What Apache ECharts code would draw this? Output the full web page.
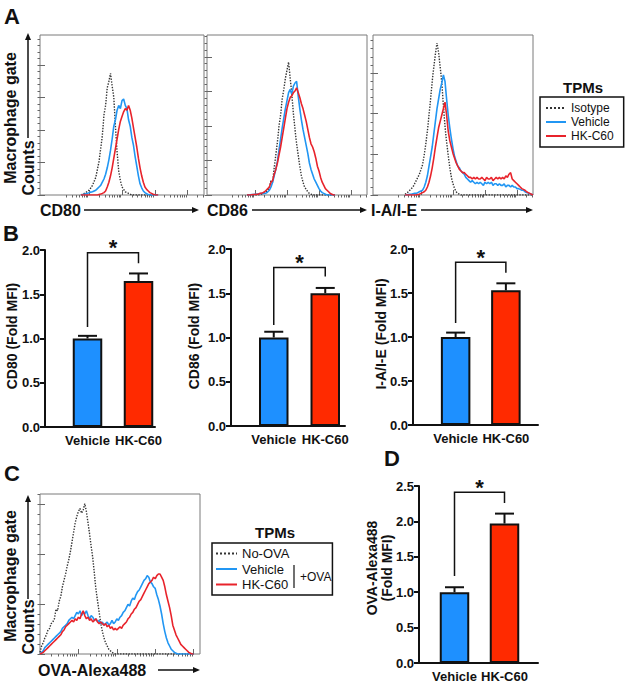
<!DOCTYPE html>
<html><head><meta charset="utf-8">
<script src="https://cdn.jsdelivr.net/npm/echarts@6/dist/echarts.min.js"></script>
<style>html,body{margin:0;padding:0;background:#fff}#c{width:630px;height:689px}</style>
</head><body><div id="c"></div><script>
// ---------------- DATA ----------------
// Panel A histograms (channel position vs. normalised counts)
const a1Channels = [250,260,270,280,290,300,310,320,330,340,350,360,370,380,390,400,410,420,430,440,450,460,470,480,490,500,510,520,530,540,550,560,570,580,590,600,610,620,630,640,650,660,670,680,690,700,710,720];
const a1Isotype = [0,0.5,1,1.5,2.5,3,4.5,6,8.5,11,16,21,29,37,50,56,67,71,76,68,61,43,27,15,9,5,3.5,2,1.5,1,0.5,0,0,0,0,0,0,0,0,0,0,0,0,0,0,0,0,0];
const a1Vehicle = [0,0.3,0.5,0.8,1,1.5,1.8,2,2.5,3,4,5,6,8,10,13,17,22,28,35,43,47,53,56,54,59,60,56,54,47,43,36,31,24,18,12,7,4.5,2.5,1.5,0.8,0.3,0,0,0,0,0,0];
const a1HKC60 = [0,0,0,0,0,0,0,0,0,0,0,0.3,0.6,1,1.5,2.5,5,8,12,17,23,29,35,41,46,49,52,54,53,56,53,48,42,36,30,23,17,12,8,5,3.5,2.5,1.5,1,0.5,0.2,0,0];

const a2Channels = [250,260,270,280,290,300,310,320,330,340,350,360,370,380,390,400,410,420,430,440,450,460,470,480,490,500,510,520,530,540,550,560,570,580,590,600,610,620,630,640,650,660,670,680,690,700,710,720,730,740,750,760,770,780,790,800];
const a2Isotype = [0,0,0,0,0,0,0,0,0.3,0.5,1,1.5,2,3,5,9,8,17,25,33,43,50,60,66,73,78,83,73,63,51,41,32,25,18,12,8,5,3.5,2,1,0.5,0,0,0,0,0,0,0,0,0,0,0,0,0,0,0];
const a2Vehicle = [0,0,0.2,0.3,0.3,0.5,0.5,0.7,0.8,1,1,1,1.2,2,3,5,8,12,16,21,28,35,42,48,54,59,64,66,63,68,70,71,62,54,47,41,36,31,26,20,16,13,10,8,6,4,2.5,1.5,1,0.5,0,0,0,0,0,0];
const a2HKC60 = [0,0,0,0.2,0.3,0.3,0.5,0.5,1,1,1.5,2,3,4,5,8,9,13,16,20,25,30,36,42,48,54,58,61,62,64,65,67,64,61,57,54,50,46,41,36,32,30,27,23,18,15,11,8,6,4,3,2,1,0.5,0,0];

const a3Channels = [200,210,220,230,240,250,260,270,280,290,300,310,320,330,340,350,360,370,380,390,400,410,420,430,440,450,460,470,480,490,500,510,520,530,540,550,560,570,580,590,600,610,620,630,640,650,660,670,680,690,700,710,720,730,740,750,760,770,780,790,800,810,820,830,840,850,860,870,880,890,900,910,920,930,940,950,960,970,980,990,1000];
const a3Isotype = [0.5,1,2,3,4,5,7,9,11,13,16,19,25,32,40,50,60,71,80,88,95,89,80,70,56,43,33,25,17,11,7,4,2,1,0.5,0,0,0,0,0,0,0,0,0,0,0,0,0,0,0,0,0,0,0,0,0,0,0,0,0,0,0,0,0,0,0,0,0,0,0,0,0,0,0,0,0,0,0,0,0,0];
const a3Vehicle = [0,0,0.3,0.5,0.5,0.8,1,1,1.5,2,2.5,3,5,8,12,18,24,30,38,46,54,60,66,70,75,71,60,50,42,35,29,24,21,18,17,15,14,13,11,10,9,8,9,8,7,8,7,8,7,6,8,7,8,7,8,6,7,7,6,7,6,6,7,5,6,6,5,6,5,5,4,4,3.5,3,3,2,1.5,1.2,0.8,0.5,0];
const a3HKC60 = [0,0,0,0,0,0,0,0,0.3,0.5,1,1.5,2,3,5,8,12,17,23,30,36,42,46,50,54,58,50,40,34,30,26,23,20,18,16,15,14,14,13,12,11,11,10,11,10,11,10,10,11,10,9,11,10,10,11,9,10,11,10,11,10,11,10,12,11,13,14,10,9,8,7,6,5,4,3.5,3,2,1.5,1,0.5,0];

// Panel C histogram
const cChannels = [0,10,20,30,40,50,60,70,80,90,100,110,120,130,140,150,160,170,180,190,200,210,220,230,240,250,260,270,280,290,300,310,320,330,340,350,360,370,380,390,400,410,420,430,440,450,460,470,480,490,500,510,520,530,540,550,560,570,580,590,600,610,620,630,640,650,660,670,680,690,700,710,720,730,740,750,760,770,780,790,800,810,820,830,840,850,860,870,880,890,900,910,920,930,940,950,960];
const cNoOVA = [1,5,7,10,12,15,16,19,20,22,28,27,33,36,42,46,50,55,59,64,70,76,82,86,89,91,88,90,94,89,82,75,67,60,50,40,33,26,19,14,10,7,5,3,2,1,0.5,0,0,0,0,0,0,0,0,0,0,0,0,0,0,0,0,0,0,0,0,0,0,0,0,0,0,0,0,0,0,0,0,0,0,0,0,0,0,0,0,0,0,0,0,0,0,0,0,0,0];
const cVehicle = [0,1,2,4,5,6,7,8,9,10,11,12,13,14,16,17,18,19,21,22,23,22,24,26,25,27,24,26,25,27,24,22,24,23,21,22,20,21,19,20,18,19,20,18,19,21,19,20,22,21,23,24,26,27,29,31,30,33,35,34,37,39,40,42,44,46,47,49,48,45,44,42,41,37,34,30,25,19,14,10,7,5,3,2,1,0.5,0,0,0,0,0,0,0,0,0,0,0];
const cHKC60 = [0,0.5,1,2,3,4,5,6,7,8,9,10,11,12,14,15,17,18,19,20,21,20,22,21,23,22,25,27,24,22,23,21,22,20,21,22,20,19,20,19,18,19,17,18,16,17,15,16,15,16,17,16,18,19,20,22,23,25,26,28,29,31,33,34,36,38,40,42,44,45,46,48,47,49,50,50,48,46,42,37,33,29,24,18,15,12,10,8,6,5,4,3,2,1,0.5,0,0];

// Panels B and D: bar charts (fold MFI, mean and SEM)
const groups = ['Vehicle', 'HK-C60'];
const cd80Mean = [1.0, 1.65];   const cd80Sem = [0.03, 0.085];
const cd86Mean = [1.0, 1.50];   const cd86Sem = [0.065, 0.06];
const iaieMean = [1.0, 1.53];   const iaieSem = [0.05, 0.08];
const ovaMean  = [1.0, 1.97];   const ovaSem  = [0.07, 0.14];
// significance brackets: [left foot, top, right foot]
const cd80Bracket = [1.13, 1.97, 1.85];
const cd86Bracket = [1.14, 1.79, 1.69];
const iaieBracket = [1.16, 1.85, 1.73];
const ovaBracket  = [1.23, 2.41, 2.26];
const bTickLabels = ['0.0', '0.5', '1.0', '1.5', '2.0'];
const dTickLabels = ['0.0', '0.5', '1.0', '1.5', '2.0', '2.5'];

// ---------------- STYLE / BUILD ----------------
const FONT = 'Liberation Sans, Arial, sans-serif';
const INK = '#111';
const BLUE_LINE = '#2196f3', RED_LINE = '#e8232b', ISO_LINE = '#333';
const BLUE_BAR = '#1e90ff', RED_BAR = '#ff2a00';

const grids = [], xAxes = [], yAxes = [], series = [];
const pairs = (xs, ys) => xs.map((x, i) => [x, ys[i]]);

function logMinor(decades, width) {
  const out = [];
  decades.forEach(d => { for (let k = 2; k < 10; k++) { const v = d + width * Math.log10(k); if (v > 0 && v < 1000) out.push(v); } });
  return out;
}
function histPanel(box, xMajor, xMinor, yStep) {
  grids.push({left: box[0], top: box[1], width: box[2], height: box[3], show: true, borderColor: '#7a7a7a', borderWidth: 1, backgroundColor: 'transparent'});
  const gi = grids.length - 1;
  const ts = {color: '#666', width: 1};
  const yMajor = [], yMinor = [];
  for (let v = 0; v <= 100.01; v += yStep) yMajor.push(v);
  for (let v = 0; v <= 100.01; v += yStep / 5) yMinor.push(v);
  const xi = xAxes.length, yi = yAxes.length;
  const base = {gridIndex: gi, type: 'value', min: 0, axisLine: {show: false}, axisLabel: {show: false}, splitLine: {show: false}};
  xAxes.push(Object.assign({}, base, {max: 1000, axisTick: {show: true, inside: true, length: 5, customValues: xMajor, lineStyle: ts}}));
  xAxes.push(Object.assign({}, base, {max: 1000, axisTick: {show: true, inside: true, length: 2.5, customValues: xMinor, lineStyle: ts}}));
  yAxes.push(Object.assign({}, base, {max: 100, axisTick: {show: true, inside: true, length: 5, customValues: yMajor, lineStyle: ts}}));
  yAxes.push(Object.assign({}, base, {max: 100, axisTick: {show: true, inside: true, length: 2.5, customValues: yMinor, lineStyle: ts}}));
  return {xi, yi};
}
function histSeries(ax, name, xs, ys, color, dotted) {
  series.push({type: 'line', name, xAxisIndex: ax.xi, yAxisIndex: ax.yi, data: pairs(xs, ys), symbol: 'none', showSymbol: false,
    lineStyle: {color, width: dotted ? 1.4 : 1.6, type: dotted ? 'dotted' : 'solid'}, itemStyle: {color}, silent: true});
}

const aMajor = [300, 500, 700, 900];
const aMinor = logMinor([100, 300, 500, 700, 900], 200);
const cMajor = [240, 480, 720, 960];
const cMinor = logMinor([0, 240, 480, 720, 960], 240);

const h1 = histPanel([40, 35, 164, 160], aMajor, aMinor, 20.3);
histSeries(h1, 'Isotype', a1Channels, a1Isotype, ISO_LINE, true);
histSeries(h1, 'Vehicle', a1Channels, a1Vehicle, BLUE_LINE, false);
histSeries(h1, 'HK-C60', a1Channels, a1HKC60, RED_LINE, false);
const h2 = histPanel([207, 35, 160, 160], aMajor, aMinor, 21.6);
histSeries(h2, 'Isotype', a2Channels, a2Isotype, ISO_LINE, true);
histSeries(h2, 'Vehicle', a2Channels, a2Vehicle, BLUE_LINE, false);
histSeries(h2, 'HK-C60', a2Channels, a2HKC60, RED_LINE, false);
const h3 = histPanel([373, 35, 160, 160], aMajor, aMinor, 25.4);
histSeries(h3, 'Isotype', a3Channels, a3Isotype, ISO_LINE, true);
histSeries(h3, 'Vehicle', a3Channels, a3Vehicle, BLUE_LINE, false);
histSeries(h3, 'HK-C60', a3Channels, a3HKC60, RED_LINE, false);
const hc = histPanel([40, 494, 160, 160], cMajor, cMinor, 31.25);
histSeries(hc, 'No-OVA', cChannels, cNoOVA, ISO_LINE, true);
histSeries(hc, 'Vehicle', cChannels, cVehicle, BLUE_LINE, false);
histSeries(hc, 'HK-C60', cChannels, cHKC60, RED_LINE, false);

function barPanel(axisBox, barBox, yMax, tickLabels, means, sems, bracket, sName) {
  // axis frame (y axis with ticks + x baseline)
  grids.push({left: axisBox[0], top: axisBox[1], width: axisBox[2], height: axisBox[3]});
  const ga = grids.length - 1;
  xAxes.push({gridIndex: ga, type: 'value', min: 0, max: 1, axisLine: {show: true, lineStyle: {color: INK, width: 2}}, axisTick: {show: false}, axisLabel: {show: false}, splitLine: {show: false}});
  yAxes.push({gridIndex: ga, type: 'value', min: 0, max: yMax, interval: 0.5,
    axisLine: {show: true, lineStyle: {color: INK, width: 2}}, axisTick: {show: true, length: 5, lineStyle: {color: INK, width: 2}},
    axisLabel: {margin: 5, fontSize: 13, fontWeight: 'bold', color: INK, fontFamily: FONT, formatter: v => tickLabels[Math.round(v / 0.5)]},
    splitLine: {show: false}});
  // bars
  grids.push({left: barBox[0], top: axisBox[1], width: barBox[1], height: axisBox[3]});
  const gb = grids.length - 1;
  const bx = xAxes.length, by = yAxes.length;
  xAxes.push({gridIndex: gb, type: 'category', data: groups, axisLine: {show: false}, axisTick: {show: false},
    axisLabel: {interval: 0, hideOverlap: false, margin: 7, fontSize: 13, fontWeight: 'bold', color: INK, fontFamily: FONT}});
  yAxes.push({gridIndex: gb, type: 'value', min: 0, max: yMax, show: false});
  series.push({type: 'bar', name: sName, xAxisIndex: bx, yAxisIndex: by, barWidth: 29.5, silent: true,
    data: means.map((m, i) => ({value: m, itemStyle: {color: i === 0 ? BLUE_BAR : RED_BAR}})),
    itemStyle: {borderColor: INK, borderWidth: 2}});
  series.push({type: 'custom', name: sName + ' SEM', xAxisIndex: bx, yAxisIndex: by, z: 5, silent: true,
    data: means.map((m, i) => [i, m, sems[i]]), encode: {x: 0, y: 1},
    renderItem: (p, api) => {
      const c = api.value(0), m = api.value(1), e = api.value(2);
      const a = api.coord([c, m]), b = api.coord([c, m + e]);
      const st = {stroke: INK, lineWidth: 2};
      return {type: 'group', children: [
        {type: 'line', shape: {x1: a[0], y1: a[1], x2: b[0], y2: b[1]}, style: st},
        {type: 'line', shape: {x1: b[0] - 9.5, y1: b[1], x2: b[0] + 9.5, y2: b[1]}, style: st}
      ]};
    }});
  series.push({type: 'custom', name: sName + ' significance', xAxisIndex: bx, yAxisIndex: by, z: 5, silent: true,
    data: [[0, 1, bracket[0], bracket[1], bracket[2]]], encode: {x: [0, 1], y: [2, 3, 4]},
    renderItem: (p, api) => {
      const a = api.coord([api.value(0), api.value(2)]);
      const b = api.coord([api.value(0), api.value(3)]);
      const c = api.coord([api.value(1), api.value(3)]);
      const d = api.coord([api.value(1), api.value(4)]);
      return {type: 'group', children: [
        {type: 'polyline', shape: {points: [a, b, c, d]}, style: {stroke: INK, lineWidth: 1.5, fill: 'none'}},
        {type: 'text', x: (b[0] + c[0]) / 2, y: b[1] - 5, style: {text: '*', font: 'bold 22px ' + FONT, fill: INK, align: 'center', verticalAlign: 'middle'}}
      ]};
    }});
}
barPanel([45, 250, 110, 177], [62, 102], 2, bTickLabels, cd80Mean, cd80Sem, cd80Bracket, 'CD80');
barPanel([231, 249, 114, 177], [248, 103], 2, bTickLabels, cd86Mean, cd86Sem, cd86Bracket, 'CD86');
barPanel([413, 249, 125, 176], [430.5, 100.5], 2, bTickLabels, iaieMean, iaieSem, iaieBracket, 'I-A/I-E');
barPanel([419, 486, 119, 177], [429.5, 100], 2.5, dTickLabels, ovaMean, ovaSem, ovaBracket, 'OVA');

// ---------------- annotations ----------------
const G = [];
function T(x, y, text, size, o = {}) {
  const st = {text, fill: INK, fontSize: size, fontWeight: o.weight || 'bold', fontFamily: FONT, align: o.align || 'left', verticalAlign: 'middle'};
  if (o.lh) st.lineHeight = o.lh;
  G.push({type: 'text', x, y, rotation: o.rot || 0, silent: true, style: st});
}
function Ln(x1, y1, x2, y2, w) { G.push({type: 'line', silent: true, shape: {x1, y1, x2, y2}, style: {stroke: INK, lineWidth: w || 1.5}}); }
function arrowRight(x1, x2, y) { Ln(x1, y, x2 - 4, y); G.push({type: 'polygon', silent: true, shape: {points: [[x2, y], [x2 - 7, y - 3], [x2 - 7, y + 3]]}, style: {fill: INK}}); }
function arrowUp(x, y1, y2) { Ln(x, y1, x, y2 + 4); G.push({type: 'polygon', silent: true, shape: {points: [[x, y2], [x - 3, y2 + 7], [x + 3, y2 + 7]]}, style: {fill: INK}}); }
const R = Math.PI / 2;
// panel letters
T(12, 16, 'A', 22, {align: 'center'});
T(11, 233, 'B', 22, {align: 'center'});
T(12, 473, 'C', 22, {align: 'center'});
T(392, 458, 'D', 22, {align: 'center'});
// panel A axis titles
T(10, 118, 'Macrophage gate', 16, {rot: R, align: 'center'});
T(28, 168, 'Counts', 16, {rot: R, align: 'center'});
arrowUp(28, 138, 33);
T(40, 210, 'CD80', 16); arrowRight(84, 199, 210);
T(207, 210, 'CD86', 16); arrowRight(252, 367, 210);
T(371, 210, 'I-A/I-E', 16); arrowRight(421, 533, 210);
T(583, 87, 'TPMs', 15, {align: 'center'});
// panel B / D y-axis titles
T(12, 336, 'CD80 (Fold MFI)', 14, {rot: R, align: 'center'});
T(194, 336, 'CD86 (Fold MFI)', 14, {rot: R, align: 'center'});
T(381, 334, 'I-A/I-E (Fold MFI)', 14, {rot: R, align: 'center'});
T(379, 568, 'OVA-Alexa488\n(Fold MFI)', 14, {rot: R, align: 'center', lh: 15});
// panel C axis titles
T(10, 576, 'Macrophage gate', 16, {rot: R, align: 'center'});
T(28, 627, 'Counts', 16, {rot: R, align: 'center'});
arrowUp(28, 599, 495);
T(38, 670, 'OVA-Alexa488', 16); arrowRight(158, 200, 670);
T(275, 532, 'TPMs', 15, {align: 'center'});
Ln(294, 565, 294, 588, 1.2);
T(300, 577, '+OVA', 12, {weight: 'normal'});

const legendBase = {orient: 'vertical', itemHeight: 10, borderColor: INK, borderWidth: 1.5, selectedMode: false,
  itemStyle: {opacity: 0, borderWidth: 0}};
const option = {
  animation: false,
  backgroundColor: '#fff',
  textStyle: {fontFamily: FONT},
  grid: grids, xAxis: xAxes, yAxis: yAxes, series,
  legend: [
    Object.assign({}, legendBase, {data: ['Isotype', 'Vehicle', 'HK-C60'], left: 540, top: 97, padding: [5, 10, 5, 5],
      itemWidth: 20, itemGap: 2, itemTextGap: 10, textStyle: {fontSize: 12, color: INK, fontFamily: FONT}}),
    Object.assign({}, legendBase, {data: ['No-OVA', 'Vehicle', 'HK-C60'], left: 212, top: 543, padding: [4, 43, 4, 3],
      itemWidth: 21, itemGap: 2.5, itemTextGap: 9, textStyle: {fontSize: 13, color: INK, fontFamily: FONT}})
  ],
  graphic: G
};
const chart = echarts.init(document.getElementById('c'), null, {renderer: 'svg', width: 630, height: 689});
chart.setOption(option);
</script></body></html>
